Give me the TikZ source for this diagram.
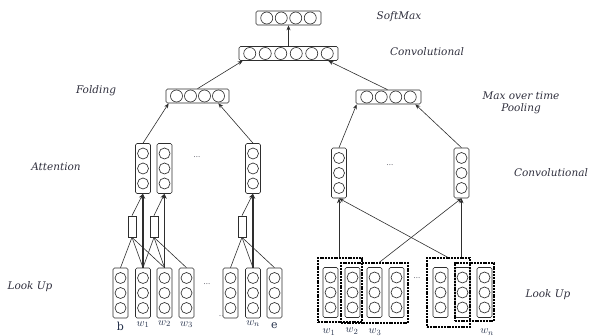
\documentclass[tikz,border=0pt]{standalone}
\usepackage{fontspec}
\setmainfont{DejaVu Serif}
\usetikzlibrary{calc,arrows.meta}
\definecolor{linecol}{HTML}{2E2E2E}
\definecolor{txtcol}{HTML}{30303E}
\definecolor{wordcol}{HTML}{24304A}
\newcommand{\vcolumn}[3]{%
  \node[vbx] (#1) at (#2,#3) {};
  \foreach \dd in {-15,0,15}{\draw[circ] ($(#1.center)+(0,\dd)$) circle (5.5pt);}%
}
\newcommand{\hrow}[6]{% name, x, y, n, pitch, width
  \node[hbx, minimum width=#6pt] (#1) at (#2,#3) {};
  \foreach \i in {1,...,#4}{\draw[circ] ($(#1.center)+({(\i-(#4+1)/2)*#5},0)$) circle (6pt);}%
}
\begin{document}
\begin{tikzpicture}[x=1pt,y=-1pt,
  vbx/.style={draw=linecol, line width=0.65pt, rounded corners=1.5pt, minimum width=15pt, minimum height=50pt, inner sep=0pt},
  hbx/.style={draw=linecol, line width=0.65pt, rounded corners=1.5pt, minimum height=14pt, inner sep=0pt},
  circ/.style={draw=linecol, line width=0.65pt},
  gate/.style={draw=linecol, line width=0.75pt, minimum width=8pt, minimum height=21pt, inner sep=0pt},
  dbox/.style={draw=black, line width=1.6pt, dash pattern=on 2pt off 0.8pt, inner sep=0pt},
  ln/.style={draw=linecol, line width=0.6pt},
  arr/.style={draw=linecol, line width=0.6pt, -{Stealth[length=5pt,width=4pt]}},
  arrthick/.style={draw=linecol, line width=1.1pt, -{Stealth[length=5pt,width=4.5pt]}},
  lab/.style={font=\itshape\fontsize{10.5}{12}\selectfont, text=txtcol},
  word/.style={font=\fontsize{11}{12}\selectfont, text=wordcol, inner sep=0pt},
  dots/.style={font=\fontsize{7}{8}\selectfont, text=txtcol, inner sep=0pt}
]
\useasboundingbox (0,0) rectangle (592,336);

% top rows
\hrow{sm}{288.5}{18}{4}{14.5}{65}
\hrow{conv}{288.5}{53.5}{6}{15.5}{99}
\hrow{fold}{197.5}{96}{4}{14}{63}
\hrow{mp}{388.5}{97}{4}{14.5}{65}

% attention columns
\vcolumn{a1}{143}{168.5}
\vcolumn{a2}{164.5}{168.5}
\vcolumn{a3}{253}{168.5}
\node[dots] at (197,157) {...};

% gates
\node[gate] (r1) at (132,226.5) {};
\node[gate] (r2) at (154,226.5) {};
\node[gate] (r3) at (242,226.5) {};

% left look up
\vcolumn{lb}{120.5}{293}
\vcolumn{l1}{143}{293}
\vcolumn{l2}{164.5}{293}
\vcolumn{l3}{186.5}{293}
\vcolumn{l5}{230.5}{293}
\vcolumn{lN}{253}{293}
\vcolumn{le}{274.5}{293}
\node[dots] at (207,284) {...};
\node[dots, font=\fontsize{5}{6}\selectfont] at (221,316) {...};

% right convolution columns
\vcolumn{c1}{339}{173}
\vcolumn{c2}{461.5}{173}
\node[dots] at (390,165) {...};

% right look up
\vcolumn{m1}{330.5}{292.5}
\vcolumn{m2}{352.5}{292.5}
\vcolumn{m3}{374.5}{292.5}
\vcolumn{m4}{396.5}{292.5}
\vcolumn{m5}{440.5}{292.5}
\vcolumn{m6}{462.5}{292.5}
\vcolumn{m7}{484.5}{292.5}
\node[dots] at (417,278) {...};

% dashed windows
\node[dbox, minimum width=44pt, minimum height=64pt] (db1) at (340,290) {};
\node[dbox, minimum width=67pt, minimum height=60pt] (db2) at (374.5,293) {};
\node[dbox, minimum width=43pt, minimum height=69pt] (db3) at (448.5,292.5) {};
\node[dbox, minimum width=39pt, minimum height=58pt] (db4) at (474.5,292) {};

% word labels
\node[word, anchor=north] at ($(lb.south)+(0,4)$) {b};
\node[word, anchor=north] at ($(l1.south)+(0,3)$) {$w_1$};
\node[word, anchor=north] at ($(l2.south)+(0,2)$) {$w_2$};
\node[word, anchor=north] at ($(l3.south)+(0,3)$) {$w_3$};
\node[word, anchor=north] at ($(lN.south)+(0,2)$) {$w_n$};
\node[word, anchor=north] at ($(le.south)+(0,4)$) {e};
\node[word] at (329,332) {$w_1$};
\node[word] at (352,331) {$w_2$};
\node[word] at (375,332) {$w_3$};
\node[word] at (487,332) {$w_n$};

% left connections
\foreach \s in {lb,l1,l2} \draw[ln] (\s.north) -- (r1.south);
\foreach \s in {l1,l2,l3} \draw[ln] (\s.north) -- (r2.south);
\foreach \s in {l5,lN,le} \draw[ln] (\s.north) -- (r3.south);
\draw[arr] (r1.north) -- (a1.south);
\draw[arr] (r2.north) -- (a2.south);
\draw[arr] (r3.north) -- (a3.south);
\draw[arrthick] (l1.north) -- (a1.south);
\draw[arrthick] (l2.north) -- (a2.south);
\draw[arrthick] (lN.north) -- (a3.south);
\draw[arr] (a1.north) -- ($(fold.south west)+(3,0)$);
\draw[arr] (a3.north) -- ($(fold.south east)+(-11,0)$);

% right connections
\draw[arr] (db1.north -| c1) -- (c1.south);
\draw[arr] ($(db2.north)+(5,0)$) -- (c2.south);
\draw[arr] ($(db3.north)+(-1,0)$) -- (c1.south);
\draw[arr] (db3.north -| c2) -- (c2.south);
\draw[arr] (c1.north) -- ($(mp.south west)+(1,0)$);
\draw[arr] (c2.north) -- ($(mp.south east)+(-6,0)$);

% top connections
\draw[arr] (fold.north) -- ($(conv.south west)+(4,0)$);
\draw[arr] ($(mp.north)+(-1,0)$) -- ($(conv.south east)+(-10,0)$);
\draw[arr] (conv.north) -- (sm.south);

% layer labels
\node[lab] at (399,17) {SoftMax};
\node[lab] at (427,52) {Convolutional};
\node[lab] at (96,91) {Folding};
\node[lab, align=center] at (521,103) {Max over time\\Pooling};
\node[lab] at (56,167) {Attention};
\node[lab] at (551,173) {Convolutional};
\node[lab] at (30,287) {Look Up};
\node[lab] at (548,295) {Look Up};
\end{tikzpicture}
\end{document}
